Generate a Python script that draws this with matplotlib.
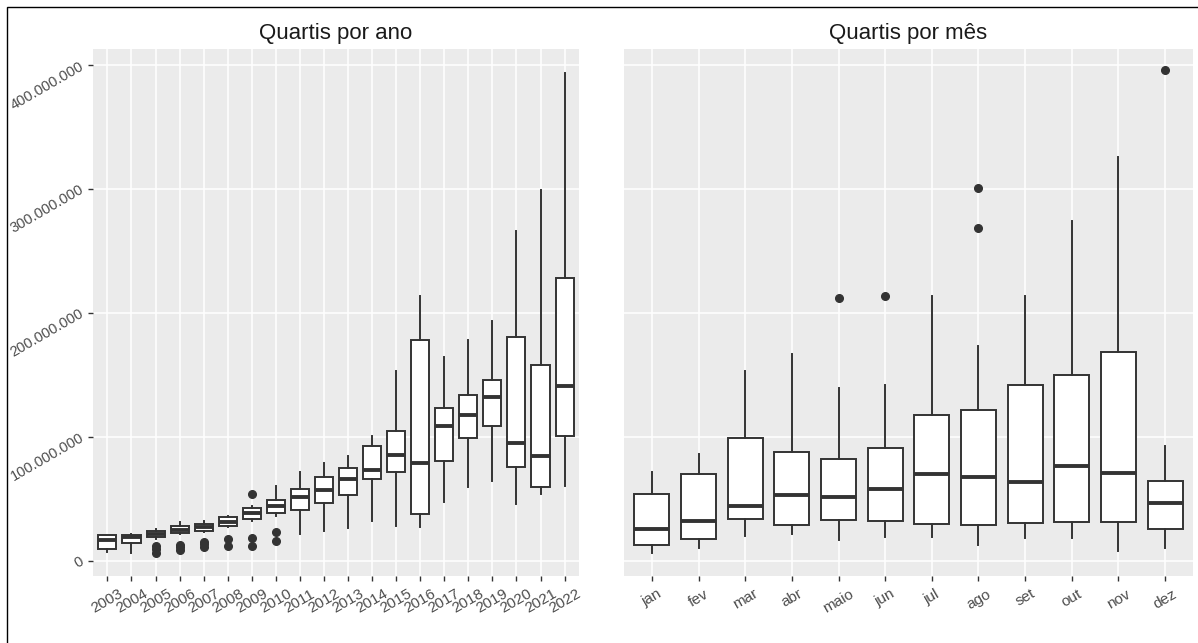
import numpy as np
import matplotlib.pyplot as plt
from matplotlib.ticker import FuncFormatter, MultipleLocator
from matplotlib.patches import Rectangle

plt.rcParams['font.family'] = ['Liberation Sans', 'DejaVu Sans']

# Quartis por ano (valores em milhões)
anos = [str(a) for a in range(2003, 2023)]
q1_ano = [8.9, 14.3, 18.8, 22.3, 23.6, 27.7, 33.3, 38.2, 41.1, 46.2, 52.5, 65.9, 71.8, 37.9, 80.1, 98.9, 108.9, 75.3, 59.4, 100.2]
med_ano = [16.7, 18.8, 21.5, 24.8, 26.9, 31.5, 38.4, 44.4, 51.6, 57.3, 66.0, 73.4, 84.9, 79.0, 108.9, 117.7, 132.0, 94.9, 84.7, 141.1]
q3_ano = [20.2, 21.0, 23.6, 28.0, 29.6, 34.9, 42.2, 48.9, 57.8, 67.2, 75.0, 92.7, 104.8, 178.2, 123.4, 133.6, 145.7, 180.1, 157.8, 228.5]
lo_ano = [6.7, 6.2, 17.7, 21.5, 22.8, 26.9, 32.3, 36.3, 21.5, 24.2, 26.2, 32.3, 28.2, 27.2, 47.0, 59.1, 64.5, 45.7, 53.8, 59.9]
hi_ano = [21.0, 21.5, 25.8, 30.9, 31.7, 35.7, 44.4, 60.5, 71.8, 78.5, 84.7, 100.3, 152.7, 213.2, 164.0, 178.2, 193.5, 266.4, 299.2, 393.5]
out_ano = [[], [], [11.5, 8.9, 6.2], [12.9, 10.8, 8.1], [15.3, 13.4, 10.8], [17.5, 11.5],
           [53.8, 18.0, 12.1], [23.4, 15.6], [], [], [], [], [], [], [], [], [], [], [], []]

# Quartis por mês (valores em milhões)
meses = ['jan', 'fev', 'mar', 'abr', 'maio', 'jun', 'jul', 'ago', 'set', 'out', 'nov', 'dez']
q1_mes = [12.4, 17.5, 33.9, 29.0, 32.8, 32.0, 29.6, 29.0, 30.1, 31.3, 30.7, 25.5]
med_mes = [25.5, 32.3, 43.8, 53.2, 51.4, 57.5, 69.6, 67.5, 63.2, 76.2, 71.0, 46.7]
q3_mes = [53.8, 69.9, 98.9, 87.3, 82.0, 91.0, 117.7, 121.2, 141.4, 150.1, 168.4, 64.1]
lo_mes = [6.2, 9.9, 19.6, 21.2, 16.9, 18.8, 19.1, 12.5, 18.0, 18.0, 7.5, 10.1]
hi_mes = [71.2, 86.3, 152.7, 166.9, 139.3, 141.6, 213.9, 173.3, 213.9, 273.9, 326.1, 92.2]
out_mes = [[], [], [], [], [212.0], [213.9], [], [300.9, 268.1], [], [], [], [395.7]]


def monta_stats(q1, med, q3, lo, hi, outs):
    stats = []
    for i in range(len(q1)):
        stats.append({
            'q1': q1[i] * 1e6, 'med': med[i] * 1e6, 'q3': q3[i] * 1e6,
            'whislo': lo[i] * 1e6, 'whishi': hi[i] * 1e6,
            'fliers': np.array(outs[i]) * 1e6,
        })
    return stats


def estilo(ax, labels, titulo):
    ax.set_facecolor('#EBEBEB')
    for s in ax.spines.values():
        s.set_visible(False)
    ax.grid(True, color='white', linewidth=1.1)
    ax.set_axisbelow(True)
    ax.set_xticks(range(len(labels)))
    ax.set_xticklabels(labels, rotation=30, ha='center', fontsize=11, color='#4D4D4D')
    ax.set_xlim(-0.6, len(labels) - 0.4)
    ax.set_ylim(-12.5e6, 413e6)
    ax.yaxis.set_major_locator(MultipleLocator(100e6))
    ax.tick_params(axis='both', length=3.8, width=1, color='#333333')
    ax.tick_params(axis='x', pad=4)
    ax.set_title(titulo, fontsize=16, color='#1A1A1A', pad=7)


fig = plt.figure(figsize=(11.98, 6.43), dpi=100)
ax1 = fig.add_axes([93 / 1198, 1 - 576 / 643, 486 / 1198, 527 / 643])
ax2 = fig.add_axes([624 / 1198, 1 - 576 / 643, 569 / 1198, 527 / 643])

box_kw = dict(
    widths=0.75, patch_artist=True, showcaps=False,
    boxprops=dict(facecolor='white', edgecolor='#333333', linewidth=1.4),
    whiskerprops=dict(color='#333333', linewidth=1.4),
    medianprops=dict(color='#333333', linewidth=2.8),
    flierprops=dict(marker='o', markerfacecolor='#333333', markeredgecolor='#333333', markersize=5.5),
)

ax1.bxp(monta_stats(q1_ano, med_ano, q3_ano, lo_ano, hi_ano, out_ano),
        positions=range(len(anos)), **box_kw)
ax2.bxp(monta_stats(q1_mes, med_mes, q3_mes, lo_mes, hi_mes, out_mes),
        positions=range(len(meses)), **box_kw)

estilo(ax1, anos, 'Quartis por ano')
estilo(ax2, meses, 'Quartis por mês')

fmt = FuncFormatter(lambda v, p: f'{int(round(v)):,}'.replace(',', '.'))
ax1.yaxis.set_major_formatter(fmt)
for lab in ax1.get_yticklabels():
    lab.set_rotation(30)
    lab.set_fontsize(10.5)
    lab.set_color('#4D4D4D')
    lab.set_rotation_mode('anchor')
    lab.set_ha('right')
    lab.set_va('center')
ax2.tick_params(axis='y', left=False, labelleft=False)

# moldura da figura
fig.patches.append(Rectangle((7 / 1198, -0.1), 1.2, 1.1 - 7 / 643, transform=fig.transFigure,
                             fill=False, edgecolor='black', linewidth=1))

plt.savefig('out.png', dpi=100)
